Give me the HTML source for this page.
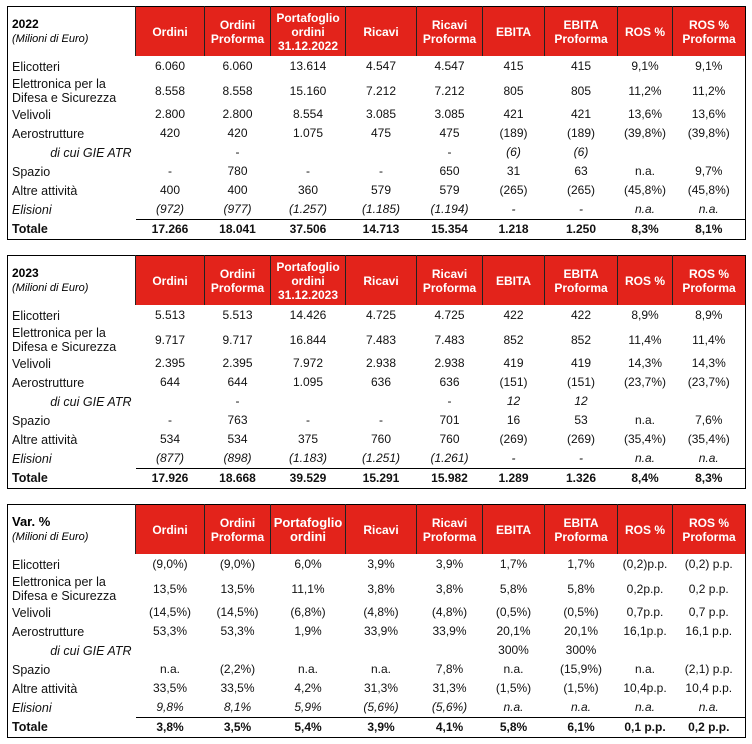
<!DOCTYPE html>
<html><head><meta charset="utf-8"><style>
body{margin:0;background:#fff;width:752px;height:744px;position:relative;font-family:"Liberation Sans",Arial,sans-serif;}
table{position:absolute;left:7px;width:738px;border-collapse:collapse;table-layout:fixed;border:1.5px solid #000;}
td{padding:0;text-align:center;font-size:12px;color:#111;white-space:nowrap;line-height:13px}
td.l{text-align:left;padding-left:4px;font-size:12.5px;line-height:14px}
tr.h td{background:#e3231b;color:#fff;font-weight:bold;font-size:12px;height:49px;border-left:1px solid #222;line-height:14px}
tr.h td.t{background:#fff;color:#000;text-align:left;padding-left:4px;border-left:none;vertical-align:middle}
tr.h td.t b{font-size:12px;display:block}
tr.h td.t i{font-weight:normal;font-size:11px}
tr.r td{height:19px}
tr.r1 td{height:21px}
tr.r2 td{height:26px}
tr.tot td{height:19px;font-weight:bold;border-top:1px solid #000}
tr.tot td.l{border-top:none}
.i td{font-style:italic}
td.g{font-style:italic;text-align:right;padding-right:4px}
</style></head><body>

<table style="top:6px">
<colgroup><col style="width:128px"><col style="width:69px"><col style="width:66px"><col style="width:75px"><col style="width:71px"><col style="width:66px"><col style="width:62px"><col style="width:73px"><col style="width:55px"><col style="width:73px"></colgroup>
<tr class="h"><td class="t"><b>2022</b><i>(Milioni di Euro)</i></td><td>Ordini</td><td>Ordini<br>Proforma</td><td>Portafoglio<br>ordini<br>31.12.2022</td><td>Ricavi</td><td>Ricavi<br>Proforma</td><td>EBITA</td><td>EBITA<br>Proforma</td><td>ROS %</td><td>ROS %<br>Proforma</td></tr>
<tr class="r1"><td class="l">Elicotteri</td><td>6.060</td><td>6.060</td><td>13.614</td><td>4.547</td><td>4.547</td><td>415</td><td>415</td><td>9,1%</td><td>9,1%</td></tr>
<tr class="r2"><td class="l">Elettronica per la<br>Difesa e Sicurezza</td><td>8.558</td><td>8.558</td><td>15.160</td><td>7.212</td><td>7.212</td><td>805</td><td>805</td><td>11,2%</td><td>11,2%</td></tr>
<tr class="r"><td class="l">Velivoli</td><td>2.800</td><td>2.800</td><td>8.554</td><td>3.085</td><td>3.085</td><td>421</td><td>421</td><td>13,6%</td><td>13,6%</td></tr>
<tr class="r"><td class="l">Aerostrutture</td><td>420</td><td>420</td><td>1.075</td><td>475</td><td>475</td><td>(189)</td><td>(189)</td><td>(39,8%)</td><td>(39,8%)</td></tr>
<tr class="r"><td class="l g">di cui GIE ATR</td><td></td><td>-</td><td></td><td></td><td>-</td><td><i>(6)</i></td><td><i>(6)</i></td><td></td><td></td></tr>
<tr class="r"><td class="l">Spazio</td><td>-</td><td>780</td><td>-</td><td>-</td><td>650</td><td>31</td><td>63</td><td>n.a.</td><td>9,7%</td></tr>
<tr class="r"><td class="l">Altre attività</td><td>400</td><td>400</td><td>360</td><td>579</td><td>579</td><td>(265)</td><td>(265)</td><td>(45,8%)</td><td>(45,8%)</td></tr>
<tr class="r i"><td class="l">Elisioni</td><td>(972)</td><td>(977)</td><td>(1.257)</td><td>(1.185)</td><td>(1.194)</td><td>-</td><td>-</td><td>n.a.</td><td>n.a.</td></tr>
<tr class="tot"><td class="l">Totale</td><td>17.266</td><td>18.041</td><td>37.506</td><td>14.713</td><td>15.354</td><td>1.218</td><td>1.250</td><td>8,3%</td><td>8,1%</td></tr>
</table>

<table style="top:255px">
<colgroup><col style="width:128px"><col style="width:69px"><col style="width:66px"><col style="width:75px"><col style="width:71px"><col style="width:66px"><col style="width:62px"><col style="width:73px"><col style="width:55px"><col style="width:73px"></colgroup>
<tr class="h"><td class="t"><b>2023</b><i>(Milioni di Euro)</i></td><td>Ordini</td><td>Ordini<br>Proforma</td><td>Portafoglio<br>ordini<br>31.12.2023</td><td>Ricavi</td><td>Ricavi<br>Proforma</td><td>EBITA</td><td>EBITA<br>Proforma</td><td>ROS %</td><td>ROS %<br>Proforma</td></tr>
<tr class="r1"><td class="l">Elicotteri</td><td>5.513</td><td>5.513</td><td>14.426</td><td>4.725</td><td>4.725</td><td>422</td><td>422</td><td>8,9%</td><td>8,9%</td></tr>
<tr class="r2"><td class="l">Elettronica per la<br>Difesa e Sicurezza</td><td>9.717</td><td>9.717</td><td>16.844</td><td>7.483</td><td>7.483</td><td>852</td><td>852</td><td>11,4%</td><td>11,4%</td></tr>
<tr class="r"><td class="l">Velivoli</td><td>2.395</td><td>2.395</td><td>7.972</td><td>2.938</td><td>2.938</td><td>419</td><td>419</td><td>14,3%</td><td>14,3%</td></tr>
<tr class="r"><td class="l">Aerostrutture</td><td>644</td><td>644</td><td>1.095</td><td>636</td><td>636</td><td>(151)</td><td>(151)</td><td>(23,7%)</td><td>(23,7%)</td></tr>
<tr class="r"><td class="l g">di cui GIE ATR</td><td></td><td>-</td><td></td><td></td><td>-</td><td><i>12</i></td><td><i>12</i></td><td></td><td></td></tr>
<tr class="r"><td class="l">Spazio</td><td>-</td><td>763</td><td>-</td><td>-</td><td>701</td><td>16</td><td>53</td><td>n.a.</td><td>7,6%</td></tr>
<tr class="r"><td class="l">Altre attività</td><td>534</td><td>534</td><td>375</td><td>760</td><td>760</td><td>(269)</td><td>(269)</td><td>(35,4%)</td><td>(35,4%)</td></tr>
<tr class="r i"><td class="l">Elisioni</td><td>(877)</td><td>(898)</td><td>(1.183)</td><td>(1.251)</td><td>(1.261)</td><td>-</td><td>-</td><td>n.a.</td><td>n.a.</td></tr>
<tr class="tot"><td class="l">Totale</td><td>17.926</td><td>18.668</td><td>39.529</td><td>15.291</td><td>15.982</td><td>1.289</td><td>1.326</td><td>8,4%</td><td>8,3%</td></tr>
</table>

<table style="top:504px">
<colgroup><col style="width:128px"><col style="width:69px"><col style="width:66px"><col style="width:75px"><col style="width:71px"><col style="width:66px"><col style="width:62px"><col style="width:73px"><col style="width:55px"><col style="width:73px"></colgroup>
<tr class="h"><td class="t"><b style="font-size:13px">Var. %</b><i>(Milioni di Euro)</i></td><td>Ordini</td><td>Ordini<br>Proforma</td><td style="font-size:13px">Portafoglio<br>ordini</td><td>Ricavi</td><td>Ricavi<br>Proforma</td><td>EBITA</td><td>EBITA<br>Proforma</td><td>ROS %</td><td>ROS %<br>Proforma</td></tr>
<tr class="r1"><td class="l">Elicotteri</td><td>(9,0%)</td><td>(9,0%)</td><td>6,0%</td><td>3,9%</td><td>3,9%</td><td>1,7%</td><td>1,7%</td><td>(0,2)p.p.</td><td>(0,2) p.p.</td></tr>
<tr class="r2"><td class="l">Elettronica per la<br>Difesa e Sicurezza</td><td>13,5%</td><td>13,5%</td><td>11,1%</td><td>3,8%</td><td>3,8%</td><td>5,8%</td><td>5,8%</td><td>0,2p.p.</td><td>0,2 p.p.</td></tr>
<tr class="r"><td class="l">Velivoli</td><td>(14,5%)</td><td>(14,5%)</td><td>(6,8%)</td><td>(4,8%)</td><td>(4,8%)</td><td>(0,5%)</td><td>(0,5%)</td><td>0,7p.p.</td><td>0,7 p.p.</td></tr>
<tr class="r"><td class="l">Aerostrutture</td><td>53,3%</td><td>53,3%</td><td>1,9%</td><td>33,9%</td><td>33,9%</td><td>20,1%</td><td>20,1%</td><td>16,1p.p.</td><td>16,1 p.p.</td></tr>
<tr class="r"><td class="l g">di cui GIE ATR</td><td></td><td></td><td></td><td></td><td></td><td>300%</td><td>300%</td><td></td><td></td></tr>
<tr class="r"><td class="l">Spazio</td><td>n.a.</td><td>(2,2%)</td><td>n.a.</td><td>n.a.</td><td>7,8%</td><td>n.a.</td><td>(15,9%)</td><td>n.a.</td><td>(2,1) p.p.</td></tr>
<tr class="r"><td class="l">Altre attività</td><td>33,5%</td><td>33,5%</td><td>4,2%</td><td>31,3%</td><td>31,3%</td><td>(1,5%)</td><td>(1,5%)</td><td>10,4p.p.</td><td>10,4 p.p.</td></tr>
<tr class="r i"><td class="l">Elisioni</td><td>9,8%</td><td>8,1%</td><td>5,9%</td><td>(5,6%)</td><td>(5,6%)</td><td>n.a.</td><td>n.a.</td><td>n.a.</td><td>n.a.</td></tr>
<tr class="tot"><td class="l">Totale</td><td>3,8%</td><td>3,5%</td><td>5,4%</td><td>3,9%</td><td>4,1%</td><td>5,8%</td><td>6,1%</td><td>0,1 p.p.</td><td>0,2 p.p.</td></tr>
</table>
</body></html>
